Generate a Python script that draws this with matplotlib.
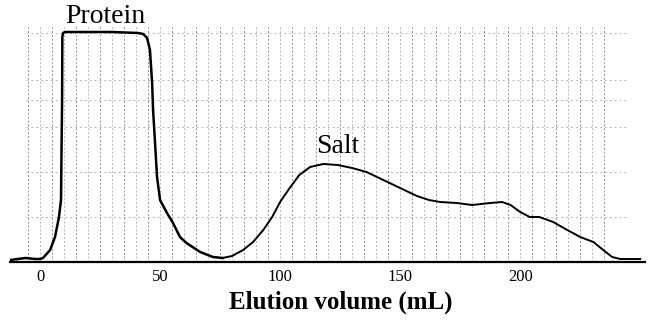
import matplotlib
matplotlib.use("Agg")
import matplotlib.pyplot as plt
import numpy as np

# Elution volume (mL) and detector signal (arbitrary units)
protein_ml = [-12.5, -6, -2, 0, 1.25, 4.2, 6.25, 7.9, 8.75, 9.0, 9.2, 9.3, 9.6, 10.4, 20, 30,
              40.8, 43, 44.6, 45.8, 46.7, 47.1, 48.75, 50, 52.9, 55.4, 58.3, 61, 66.7, 72, 76]
protein_sig = [2, 4, 3, 3, 4, 12, 25, 45, 62, 120, 162, 225, 229, 230, 230, 230,
               229, 228, 224, 212, 179, 152, 85, 62, 49, 39, 25, 19, 10, 5, 4]

salt_ml = [76, 80, 84.6, 88.75, 93, 96.7, 100, 104, 108, 112.5, 118, 124, 130, 136, 143, 150,
           157, 162, 166.7, 173.6, 180, 187.5, 192.5, 196, 200, 204, 208, 213.75, 219.6, 225,
           230.5, 234.6, 238.3, 241.7, 250]
salt_sig = [4, 6, 12, 20, 32, 45, 60, 74, 87, 95, 98, 97, 94, 90, 82, 74,
            66, 62, 60, 59, 57, 59, 60, 57, 50, 45, 45, 40, 32, 25,
            20, 12, 5, 3, 3]

tick_vals = [0, 50, 100, 150, 200]
tick_labels = ["0", "50", "100", "150", "200"]
peak_labels = ["Protein", "Salt"]
label_pos_ml = [27, 124]
label_pos_sig = [239, 109]
xlabel = "Elution volume (mL)"

W, H = 656, 322
fig = plt.figure(figsize=(W / 100, H / 100), dpi=100)
ax = fig.add_axes([10 / W, (H - 262) / H, 635 / W, 262 / H])
ax.set_xlim(-12.5, 252)
ax.set_ylim(0, 262)

# chart-paper grid
for i, v in enumerate(np.arange(-5, 240, 5)):
    col = "#8f8f8f" if i % 2 == 0 else "#b8b8b8"
    ax.vlines(v, 0, 237, color=col, lw=0.7, ls=(0, (2, 2)), zorder=0)
for hlev in [45, 90, 135, 162, 182, 229]:
    ax.hlines(hlev, -6, 245, color="#b5b5b5", lw=0.7, ls=(0, (2, 3)), zorder=0)

ax.plot(protein_ml, protein_sig, color="black", lw=1.8, zorder=3,
        solid_joinstyle="round")
ax.plot(salt_ml, salt_sig, color="black", lw=1.4, zorder=3, solid_joinstyle="round")

for t, xm, ys in zip(peak_labels, label_pos_ml, label_pos_sig):
    ax.text(xm, ys, t, family="Liberation Serif", fontsize=20, ha="center",
            va="baseline", color="black")

for s in ["top", "right", "left"]:
    ax.spines[s].set_visible(False)
ax.spines["bottom"].set_linewidth(1.6)
ax.set_yticks([])
ax.set_xticks(tick_vals)
ax.set_xticklabels(tick_labels, family="Liberation Serif", fontsize=12)
ax.tick_params(axis="x", length=0, pad=5)
ax.set_xlabel(xlabel, family="Liberation Serif", fontweight="bold", fontsize=18,
              labelpad=5)
ax.xaxis.set_label_coords((341 - 10) / 635, -0.11)
ax.xaxis.label.set_va("top")
ax.patch.set_alpha(0)

fig.savefig("out.png", dpi=100)
